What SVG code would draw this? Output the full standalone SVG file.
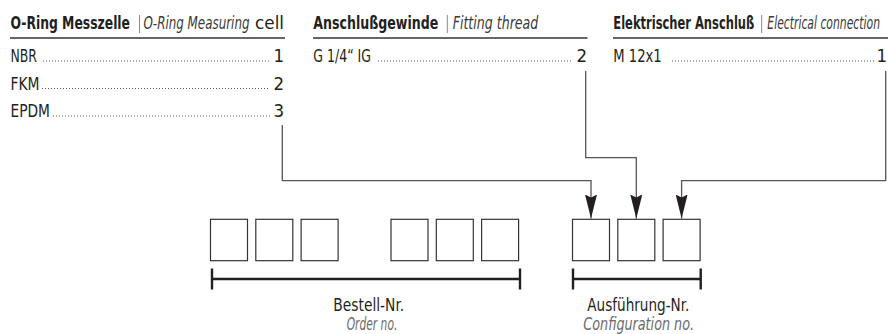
<svg xmlns="http://www.w3.org/2000/svg" width="888" height="334" viewBox="0 0 888 334">
<defs>
<style>
text{font-family:"Liberation Sans Narrow","DejaVu Sans Condensed","Liberation Sans",sans-serif;fill:#231f20}
.h{font-size:17px}
.hb{font-weight:bold}
.hi{font-style:italic;fill:#3a3a3a}
.r{font-size:18.5px}
.b{font-size:18px}
.bi{font-size:18px;font-style:italic;fill:#6b6b6b}
.sep{stroke:#8a8a8a;stroke-width:1}
.ul{stroke:#333;stroke-width:1.6}
.dots{stroke:#444;stroke-width:1.1;stroke-dasharray:0.9 2.1}
.box{fill:#fff;stroke:#333;stroke-width:1.2}
.br{stroke:#231f20;stroke-width:2.4;fill:none}
.con{fill:none;stroke:#555;stroke-width:1.3}
</style>
<marker id="ah" viewBox="0 0 24 12" refX="24" refY="6" markerWidth="24" markerHeight="12" markerUnits="userSpaceOnUse" orient="auto">
<path d="M0,0 L24,6 L0,12 L3,6 Z" fill="#231f20"/>
</marker>
</defs>

<g id="col-oring">
<text class="h" y="29"><tspan class="hb" x="10.5" textLength="119.5" lengthAdjust="spacingAndGlyphs">O-Ring Messzelle</tspan><tspan class="hi" x="143.5" textLength="106" lengthAdjust="spacingAndGlyphs">O-Ring Measuring</tspan><tspan x="255" textLength="29" lengthAdjust="spacingAndGlyphs">cell</tspan></text>
<line class="sep" x1="139.5" y1="15" x2="139.5" y2="33"/>
<line class="ul" x1="10" y1="38" x2="285" y2="38"/>
<text class="r" x="10.5" y="62" textLength="26.5" lengthAdjust="spacingAndGlyphs">NBR</text>
<line class="dots" x1="43" y1="61" x2="270" y2="61"/>
<text class="r" x="284" y="62" text-anchor="end">1</text>
<text class="r" x="10.5" y="89.5" textLength="29" lengthAdjust="spacingAndGlyphs">FKM</text>
<line class="dots" x1="42" y1="88.5" x2="270" y2="88.5"/>
<text class="r" x="284" y="89.5" text-anchor="end">2</text>
<text class="r" x="10.5" y="117" textLength="39.5" lengthAdjust="spacingAndGlyphs">EPDM</text>
<line class="dots" x1="53" y1="116" x2="270" y2="116"/>
<text class="r" x="284" y="117" text-anchor="end">3</text>
</g>

<g id="col-thread">
<text class="h" y="29"><tspan class="hb" x="313.3" textLength="125" lengthAdjust="spacingAndGlyphs">Anschlußgewinde</tspan><tspan class="hi" x="452.7" textLength="85.6" lengthAdjust="spacingAndGlyphs">Fitting thread</tspan></text>
<line class="sep" x1="447.3" y1="15" x2="447.3" y2="33"/>
<line class="ul" x1="313" y1="38" x2="587.5" y2="38"/>
<text class="r" x="313.3" y="62" textLength="57.7" lengthAdjust="spacingAndGlyphs">G 1/4“ IG</text>
<line class="dots" x1="378" y1="61" x2="571" y2="61"/>
<text class="r" x="587" y="62" text-anchor="end">2</text>
</g>

<g id="col-electrical">
<text class="h" y="29"><tspan class="hb" x="613.3" textLength="141" lengthAdjust="spacingAndGlyphs">Elektrischer Anschluß</tspan><tspan class="hi" x="767.3" textLength="112.7" lengthAdjust="spacingAndGlyphs">Electrical connection</tspan></text>
<line class="sep" x1="761.7" y1="15" x2="761.7" y2="33"/>
<line class="ul" x1="613" y1="38" x2="888" y2="38"/>
<text class="r" x="613.3" y="62" textLength="48.4" lengthAdjust="spacingAndGlyphs">M 12x1</text>
<line class="dots" x1="672" y1="61" x2="875" y2="61"/>
<text class="r" x="887" y="62" text-anchor="end">1</text>
</g>

<g id="connectors">
<path class="con" d="M282.3,125 V180.7 H591 V218.5" marker-end="url(#ah)"/>
<path class="con" d="M585.7,71 V157.7 H636.3 V218.5" marker-end="url(#ah)"/>
<path class="con" d="M885.7,71 V180.7 H681.6 V218.5" marker-end="url(#ah)"/>
</g>

<g id="order-boxes">
<rect class="box" x="210.5" y="219.3" width="37" height="41.4"/>
<rect class="box" x="255.8" y="219.3" width="37" height="41.4"/>
<rect class="box" x="301.1" y="219.3" width="37" height="41.4"/>
<rect class="box" x="391" y="219.3" width="37" height="41.4"/>
<rect class="box" x="436.3" y="219.3" width="37" height="41.4"/>
<rect class="box" x="481.6" y="219.3" width="37" height="41.4"/>
</g>

<g id="config-boxes">
<rect class="box" x="572.5" y="219.3" width="37" height="41.4"/>
<rect class="box" x="617.8" y="219.3" width="37" height="41.4"/>
<rect class="box" x="663.1" y="219.3" width="37" height="41.4"/>
</g>

<g id="order-bracket">
<path class="br" d="M212,268.5 V289.5 M212,279 H520 M520,268.5 V289.5"/>
<text class="b" x="368.7" y="311" text-anchor="middle" textLength="70.7" lengthAdjust="spacingAndGlyphs">Bestell-Nr.</text>
<text class="bi" x="372" y="330" text-anchor="middle" textLength="50.7" lengthAdjust="spacingAndGlyphs">Order no.</text>
</g>

<g id="config-bracket">
<path class="br" d="M573,268.5 V289.5 M573,279 H700.7 M700.7,268.5 V289.5"/>
<text class="b" x="638.3" y="311" text-anchor="middle" textLength="102" lengthAdjust="spacingAndGlyphs">Ausführung-Nr.</text>
<text class="bi" x="638.7" y="330" text-anchor="middle" textLength="110.7" lengthAdjust="spacingAndGlyphs">Configuration no.</text>
</g>
</svg>
